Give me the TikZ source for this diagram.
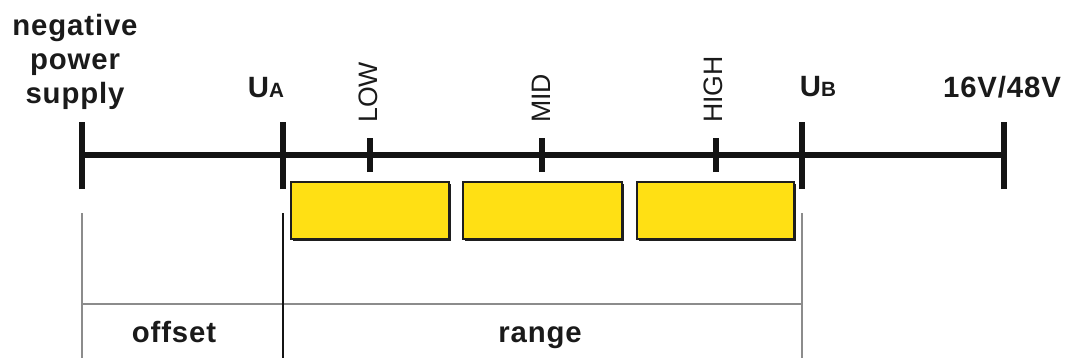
\documentclass[tikz,border=0pt]{standalone}
\usepackage{fontspec}
\setmainfont{Liberation Sans}
\newfontfamily\widebold[LetterSpace=3,BoldFont={Liberation Sans Bold}]{Liberation Sans}
\definecolor{boxyellow}{HTML}{FFE014}
\definecolor{boxedge}{HTML}{1E1E1E}
\definecolor{guidegray}{HTML}{8C8C8C}
\definecolor{axisblack}{HTML}{141414}
\definecolor{textdark}{HTML}{1A1A1A}
\begin{document}
\begin{tikzpicture}[x=0.75pt,y=-0.75pt,
  axisline/.style={draw=axisblack,line width=4.5pt},
  bigtick/.style={draw=axisblack,line width=4.5pt},
  smalltick/.style={draw=axisblack,line width=4.5pt},
  rangebox/.style={draw=boxedge,fill=boxyellow,line width=2.1pt},
  boxshadow/.style={fill=boxedge},
  guide/.style={draw=guidegray,line width=1.5pt},
  uline/.style={draw=axisblack,line width=1.1pt},
  lbl/.style={font=\widebold\bfseries\fontsize{22}{25.5}\selectfont,text=textdark,inner sep=0pt},
  ticklbl/.style={font=\fontsize{20}{22}\selectfont,text=textdark,inner sep=0pt,rotate=90,anchor=west},
  bottomlbl/.style={font=\widebold\bfseries\fontsize{22}{25}\selectfont,text=textdark,inner sep=0pt,anchor=base}
]
\useasboundingbox (0,0) rectangle (1066,358);
% axis coordinates
\coordinate (neg) at (82,155);
\coordinate (ua) at (283,155);
\coordinate (low) at (370,155);
\coordinate (mid) at (542,155);
\coordinate (high) at (716,155);
\coordinate (ub) at (802,155);
\coordinate (top) at (1004,155);
% main axis
\draw[axisline] (neg) -- (top);
% big ticks
\foreach \c in {neg,ua,ub,top}{
  \draw[bigtick] ([yshift=-34*0.75pt]\c) -- ([yshift=33*0.75pt]\c);
}
% small ticks
\foreach \c in {low,mid,high}{
  \draw[smalltick] ([yshift=-17*0.75pt]\c) -- ([yshift=17*0.75pt]\c);
}
% boxes with shadow
\foreach \a/\b in {291/449,463/622,637/794}{
  \fill[boxshadow] (\a+1.5,183.5) rectangle (\b+1.5,240.5);
  \draw[rangebox] (\a,182) rectangle (\b,239);
}
% guide lines
\coordinate (g0t) at (82,213);
\coordinate (g0b) at (82,358);
\coordinate (g1t) at (802,213);
\coordinate (g1b) at (802,358);
\coordinate (uat) at (283,213);
\coordinate (uab) at (283,358);
\coordinate (hl) at (82,304);
\coordinate (hr) at (802,304);
\draw[guide] (g0t) -- (g0b);
\draw[guide] (g1t) -- (g1b);
\draw[guide] (hl) -- (hr);
\draw[uline] (uat) -- (uab);
% labels
\node[lbl,align=center] (negl) at (75,62) {negative\\power\\supply};
\node[lbl,anchor=base] (ual) at (266,97) {U{\fontsize{15.5}{16}\selectfont A}};
\node[lbl,anchor=base] (ubl) at (818,96) {U{\fontsize{15.5}{16}\selectfont B}};
\node[lbl,anchor=base] (topl) at (1002,97) {16V/48V};
\node[ticklbl] (lowl) at (368,123) {LOW};
\node[ticklbl] (midl) at (541,123) {MID};
\node[ticklbl] (highl) at (713,123) {HIGH};
\node[bottomlbl] (offl) at (174,342) {offset};
\node[bottomlbl] (rangel) at (540,342) {range};
\end{tikzpicture}
\end{document}
